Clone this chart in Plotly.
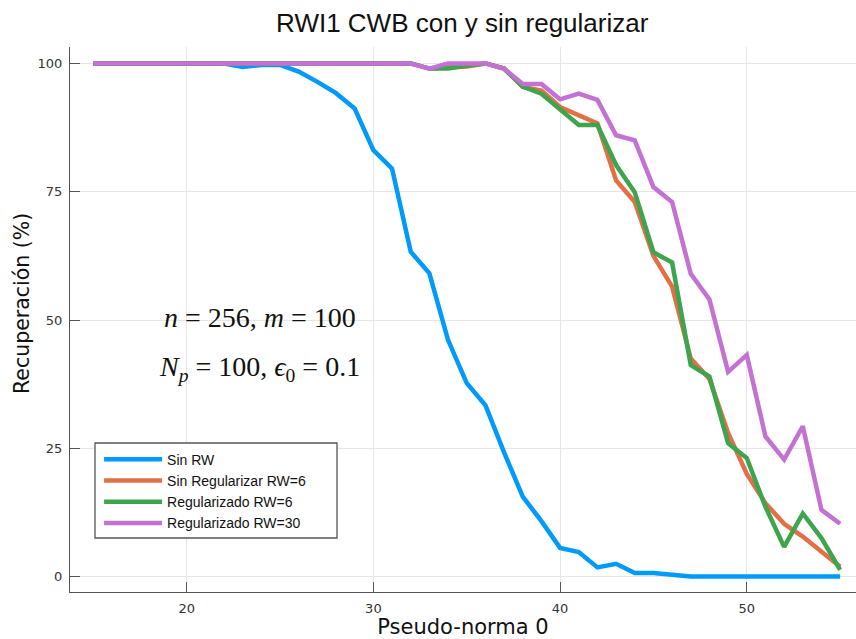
import plotly.graph_objects as go

# Pseudo-norma 0 (sparsity level)
k = [15, 16, 17, 18, 19, 20, 21, 22, 23, 24, 25, 26, 27, 28, 29, 30, 31, 32, 33, 34,
     35, 36, 37, 38, 39, 40, 41, 42, 43, 44, 45, 46, 47, 48, 49, 50, 51, 52, 53, 54, 55]

# Recovery rate (%) for each method
sin_rw = [100, 100, 100, 100, 100, 100, 100, 100, 99.3, 99.7, 99.7, 98.4, 96.4, 94.2, 91.2,
          83.1, 79.5, 63.3, 59.1, 46.1, 37.7, 33.4, 24.2, 15.6, 10.8, 5.6, 4.8, 1.8, 2.5, 0.7,
          0.7, 0.4, 0, 0, 0, 0, 0, 0, 0, 0, 0]
sin_reg_rw6 = [100, 100, 100, 100, 100, 100, 100, 100, 100, 100, 100, 100, 100, 100, 100,
               100, 100, 100, 99, 99.3, 99.4, 100, 99, 95.4, 94.7, 91.5, 90, 88.3, 77.2, 73,
               62.5, 56.5, 42.5, 38.5, 28, 20, 14.3, 10.3, 7.8, 4.9, 1.9]
reg_rw6 = [100, 100, 100, 100, 100, 100, 100, 100, 100, 100, 100, 100, 100, 100, 100,
           100, 100, 100, 99, 99, 99.6, 100, 99, 95.5, 94.1, 91, 88, 88, 80.2, 74.9,
           63.2, 61.2, 41.2, 39, 26, 23.1, 13.6, 5.8, 12.3, 7.5, 1.3]
reg_rw30 = [100, 100, 100, 100, 100, 100, 100, 100, 100, 100, 100, 100, 100, 100, 100,
            100, 100, 100, 99, 100, 100, 100, 99, 96, 96, 93, 94.1, 92.9, 86, 85,
            75.9, 73, 59, 54, 39.9, 43.2, 27.3, 22.8, 29.3, 13, 10.3]

series = [
    ("Sin RW", sin_rw, "#009AFA"),
    ("Sin Regularizar RW=6", sin_reg_rw6, "#E36F47"),
    ("Regularizado RW=6", reg_rw6, "#3EA44E"),
    ("Regularizado RW=30", reg_rw30, "#C371D2"),
]

x_ticks = [20, 30, 40, 50]
y_ticks = [0, 25, 50, 75, 100]

fig = go.Figure()
for name, vals, color in series:
    fig.add_trace(go.Scatter(x=k, y=vals, mode="lines", name=name,
                             line=dict(color=color, width=4.5)))

axis_common = dict(
    showgrid=True, gridcolor="#e6e6e6", gridwidth=1,
    showline=True, linecolor="#555555", linewidth=1.3,
    ticks="inside", ticklen=10, tickwidth=1.3, tickcolor="#555555",
    tickfont=dict(family="DejaVu Sans", size=13, color="#333333"),
    zeroline=False, mirror=False,
)

fig.update_layout(
    width=856, height=639,
    margin=dict(l=70, r=0, t=47, b=47),
    paper_bgcolor="white", plot_bgcolor="white",
    title=dict(text="RWI1 CWB con y sin regularizar", x=0.54, xanchor="center",
               y=1 - 23 / 639, yanchor="middle",
               font=dict(family="Liberation Sans", size=26, color="#111111")),
    xaxis=dict(range=[13.75, 55.85], tickvals=x_ticks,
               title=dict(text="Pseudo-norma 0", standoff=6,
                          font=dict(family="DejaVu Sans", size=21, color="#111111")),
               ticklabelstandoff=4, **axis_common),
    yaxis=dict(range=[-3.0, 103.2], tickvals=y_ticks, ticklabelstandoff=4,
               **axis_common),
    showlegend=True,
    legend=dict(x=0.037, y=0.272, xanchor="left", yanchor="top",
                bgcolor="rgba(0,0,0,0)", borderwidth=0, itemwidth=58,
                font=dict(family="Liberation Sans", size=14, color="#111111"),
                tracegroupgap=0),
    shapes=[dict(type="rect", xref="paper", yref="paper",
                 x0=0.0318, x1=0.3397, y0=0.0991, y1=0.2734,
                 line=dict(color="#555555", width=1.3), fillcolor="white",
                 layer="above")],
    annotations=[
        dict(text="Recuperación (%)", textangle=-90, xref="paper", yref="paper",
             x=-70 / 786 + 22 / 786, y=(592 - 304) / 545, xanchor="center", yanchor="middle",
             showarrow=False, font=dict(family="DejaVu Sans", size=20.5, color="#111111")),
        dict(text="<i>n</i> = 256, <i>m</i> = 100", xref="x", yref="y",
             x=23.9, y=50.5, xanchor="center", yanchor="middle", showarrow=False,
             font=dict(family="Liberation Serif", size=28, color="#111111")),
        dict(text="<i>N<sub>p</sub></i> = 100, <i>\u03f5</i><sub>0</sub> = 0.1", xref="x", yref="y",
             x=23.9, y=40.5, xanchor="center", yanchor="middle", showarrow=False,
             font=dict(family="Liberation Serif", size=28, color="#111111")),
    ],
)

fig.write_html("out.html")
